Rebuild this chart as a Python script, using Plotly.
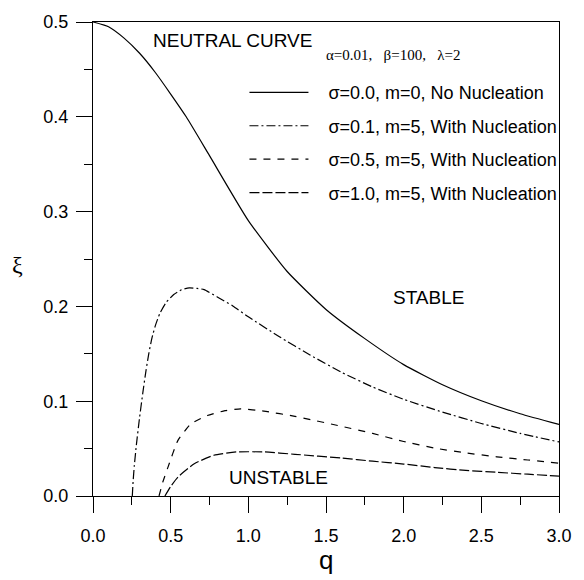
import plotly.graph_objects as go

# ---- data ----
q_s00 = [0, 0.1, 0.2, 0.3, 0.4, 0.5, 0.6, 0.75, 1.0, 1.25, 1.5, 1.75, 2.0, 2.25, 2.5, 2.75, 3.0]
xi_s00 = [0.5, 0.495, 0.483, 0.467, 0.447, 0.424, 0.400, 0.359, 0.2905, 0.2368, 0.1968, 0.166, 0.1386,
          0.1174, 0.1005, 0.0868, 0.0755]

q_s01 = [0.253, 0.258, 0.266, 0.28, 0.30, 0.32, 0.34, 0.36, 0.38, 0.40, 0.43, 0.47, 0.52, 0.57, 0.62, 0.67,
         0.715, 0.8, 0.9, 1.0, 1.2, 1.4, 1.6, 1.8, 2.0, 2.25, 2.5, 2.75, 3.0]
xi_s01 = [0.0, 0.015, 0.032, 0.055, 0.083, 0.108, 0.131, 0.151, 0.167, 0.179, 0.1925, 0.204, 0.2125, 0.2175,
          0.2195, 0.219, 0.2177, 0.210, 0.2005, 0.189, 0.168, 0.1485, 0.1305, 0.115, 0.102, 0.0885, 0.0765,
          0.066, 0.057]

q_s05 = [0.425, 0.45, 0.484, 0.547, 0.631, 0.736, 0.85, 0.95, 1.1, 1.3, 1.6, 1.8, 2.0, 2.2, 2.4, 2.6, 2.8, 3.0]
xi_s05 = [0.0, 0.015, 0.031, 0.0587, 0.0762, 0.0849, 0.090, 0.092, 0.0895, 0.084, 0.0735, 0.066, 0.0575,
          0.0505, 0.0455, 0.0413, 0.038, 0.0345]

q_s10 = [0.463, 0.5, 0.547, 0.652, 0.778, 0.925, 1.1, 1.3, 1.6, 1.8, 2.0, 2.2, 2.4, 2.6, 2.8, 3.0]
xi_s10 = [0.0, 0.010, 0.020, 0.034, 0.043, 0.0465, 0.0465, 0.044, 0.040, 0.0367, 0.0337, 0.030, 0.027,
          0.025, 0.023, 0.021]

series_names = ["σ=0.0, m=0, No Nucleation", "σ=0.1, m=5, With Nucleation",
                "σ=0.5, m=5, With Nucleation", "σ=1.0, m=5, With Nucleation"]

x_ticks = [0, 0.5, 1.0, 1.5, 2.0, 2.5, 3.0]
y_ticks = [0, 0.1, 0.2, 0.3, 0.4, 0.5]

SANS = "Liberation Sans, Arial, sans-serif"
SERIF = "Liberation Serif, Times New Roman, serif"
NB = "\u00a0"

fig = go.Figure()
styles = ["solid", "9px,3px,2px,3px", "7px,7px", "10px,3px"]
data = [(q_s00, xi_s00), (q_s01, xi_s01), (q_s05, xi_s05), (q_s10, xi_s10)]
for i, ((qx, yy), nm, ds) in enumerate(zip(data, series_names, styles)):
    fig.add_trace(go.Scatter(
        x=qx, y=yy, mode="lines", name=NB * 3 + nm, legendgroup=f"g{i}",
        line=dict(color="black", width=1.2, dash=ds, shape="spline", smoothing=0.5),
    ))

axis_common = dict(
    showline=True, linecolor="black", linewidth=1.4, mirror=True,
    ticks="outside", ticklen=16, tickwidth=1.2, tickcolor="black",
    showgrid=False, zeroline=False,
    tickfont=dict(family=SANS, size=18, color="black"),
)
fig.update_xaxes(range=[0, 3], tickvals=x_ticks, tickformat=".1f", ticklabelstandoff=7,
                 minor=dict(dtick=0.25, ticklen=8, tickwidth=1.2, tickcolor="black", ticks="outside"),
                 **axis_common)
fig.update_yaxes(range=[0, 0.5], tickvals=y_ticks, tickformat=".1f", ticklabelstandoff=4,
                 minor=dict(dtick=0.05, ticklen=8, tickwidth=1.2, tickcolor="black", ticks="outside"),
                 **axis_common)

ann = [
    dict(x=0.9, y=0.48, text="NEUTRAL CURVE", font=dict(family=SANS, size=19)),
    dict(x=1.93, y=0.465, text="α=0.01," + NB * 3 + "β=100," + NB * 3 + "λ=2",
         font=dict(family=SERIF, size=15)),
    dict(x=2.157, y=0.209, text="STABLE", font=dict(family=SANS, size=19)),
    dict(x=1.195, y=0.02, text="UNSTABLE", font=dict(family=SANS, size=19)),
]
for a in ann:
    a["font"]["color"] = "black"
    fig.add_annotation(xref="x", yref="y", showarrow=False, xanchor="center", yanchor="middle", **a)

fig.add_annotation(xref="paper", yref="paper", x=0.5, y=-0.134, text="q", showarrow=False,
                   xanchor="center", yanchor="middle",
                   font=dict(family=SANS, size=26, color="black"))
fig.add_annotation(xref="paper", yref="paper", x=-0.161, y=0.488, text="ξ", showarrow=False,
                   xanchor="center", yanchor="middle",
                   font=dict(family=SERIF, size=24, color="black"))

fig.update_layout(
    width=584, height=580,
    margin=dict(l=93, r=14, t=19, b=84),
    paper_bgcolor="white", plot_bgcolor="white",
    showlegend=True,
    legend=dict(x=0.325, xanchor="left", y=0.89, yanchor="top",
                bgcolor="rgba(0,0,0,0)", borderwidth=0, tracegroupgap=7,
                font=dict(family=SANS, size=18, color="black"), itemwidth=59),
)

fig.write_html("out.html")
